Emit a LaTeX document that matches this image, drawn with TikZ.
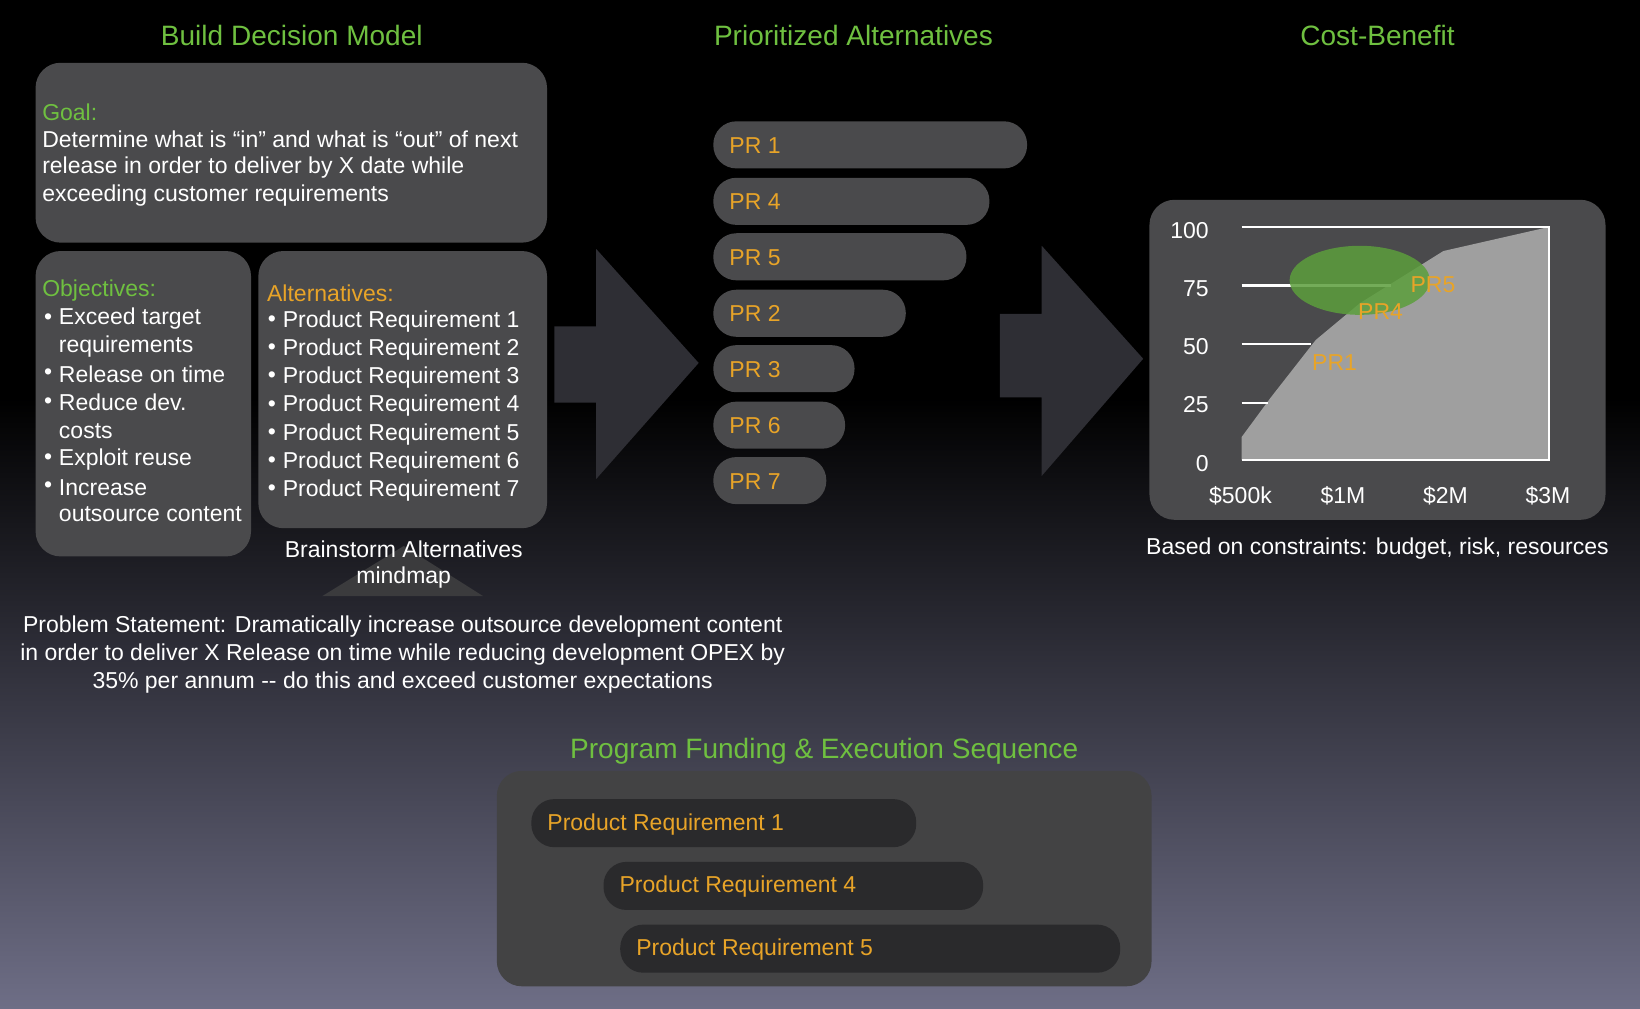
\documentclass[tikz,border=0pt]{standalone}
\usepackage{fontspec}
\setmainfont{Liberation Sans}
\begin{document}
\begin{tikzpicture}[x=0.5pt,y=-0.5pt,
 ttl/.style={text=titlegreen,font=\fontsize{13.4}{15}\selectfont},
 txt/.style={text=white,font=\fontsize{11}{13}\selectfont,inner sep=0pt},
 org/.style={text=prorange,font=\fontsize{11}{13}\selectfont,inner sep=0pt},
 box/.style={fill=boxgray,rounded corners=12pt},
 pill/.style={fill=boxgray,rounded corners=11pt},
 darrow/.style={fill=arrowgray}]
\definecolor{titlegreen}{HTML}{6FC040}
\definecolor{prorange}{HTML}{E8A428}
\definecolor{boxgray}{HTML}{4A4A4C}
\definecolor{arrowgray}{HTML}{2E2E34}
\definecolor{darkpill}{HTML}{2A2A2C}
\definecolor{bgbottom}{HTML}{6E6E86}
\definecolor{ellgreen}{HTML}{5C9E3C}
\useasboundingbox (0,0) rectangle (1568,964);
\fill[black] (0,0) rectangle (1568,380);
\shade[top color=black,bottom color=bgbottom] (0,380) rectangle (1568,964);
% titles
\node[ttl] (t1) at (279,34) {Build Decision Model};
\node[ttl] (t2) at (816,34) {Prioritized Alternatives};
\node[ttl] (t3) at (1317,34) {Cost-Benefit};
% goal box
\fill[box] (34,60) rectangle (523,232);
\node[txt,anchor=west,text=titlegreen] (g0) at (40,107) {Goal:};
\node[txt,anchor=west] (g1) at (40,133) {Determine what is “in” and what is “out” of next};
\node[txt,anchor=west] (g2) at (40,160) {release in order to deliver by X date while};
\node[txt,anchor=west] (g3) at (40,187) {exceeding customer requirements};
% objectives
\fill[box] (34,240) rectangle (240,532);
\node[txt,anchor=west,text=titlegreen] (o0) at (40,278) {Objectives:};
\foreach \y/\b/\t in {305/1/Exceed target,331/0/requirements,358/1/Release on time,385/1/Reduce dev.,412/0/costs,439/1/Exploit reuse,466/1/Increase,492/0/outsource content}{
  \ifnum\b=1 \node[txt] at (46,\y) {\textbullet};\fi
  \node[txt,anchor=west] at (56,\y) {\t};}
% alternatives
\fill[box] (247,240) rectangle (523,505);
\node[txt,anchor=west,text=prorange] (a0) at (255,280) {Alternatives:};
\foreach \i/\y in {1/307,2/334,3/361,4/388,5/415,6/442,7/469}{
  \node[txt] at (260,\y) {\textbullet};
  \node[txt,anchor=west] at (270,\y) {Product Requirement \i};}
% brainstorm triangle
\fill[boxgray!80!black] (386,522) -- (462,570) -- (308,570) -- cycle;
\node[txt] (bs1) at (386,525) {Brainstorm Alternatives};
\node[txt] (bs2) at (386,552) {mindmap};
% problem statement
\node[txt] (p1) at (385,599) {Problem Statement: Dramatically increase outsource development content};
\node[txt] (p2) at (385,626) {in order to deliver X Release on time while reducing development OPEX by};
\node[txt] (p3) at (385,653) {35\% per annum -{}- do this and exceed customer expectations};
% arrows
\fill[darrow] (530,312) -- (570,312) -- (570,238) -- (668,347) -- (570,458) -- (570,385) -- (530,385) -- cycle;
\fill[darrow] (956,300) -- (996,300) -- (996,235) -- (1093,343) -- (996,455) -- (996,380) -- (956,380) -- cycle;
% PR pills
\foreach \n/\r/\y in {1/982/116,4/946/170,5/924/223,2/866/277,3/817/330,6/808/384,7/790/437}{
  \fill[pill] (682,\y) rectangle (\r,\y+45);
  \node[org,anchor=west] at (697,\y+23) {PR \n};}
% chart
\fill[box] (1099,191) rectangle (1535,497);
\fill[gray!75] (1187,418) -- (1215,380) -- (1258,325) -- (1300,290) -- (1380,240) -- (1481,217) -- (1481,440) -- (1187,440) -- cycle;
\draw[white,line width=1pt] (1187,217) -- (1481,217) -- (1481,440) -- (1187,440);
\draw[white,line width=1pt] (1187,273) -- (1330,273);
\draw[white,line width=1pt] (1187,329) -- (1253,329);
\draw[white,line width=1pt] (1187,385) -- (1212,385);
\fill[ellgreen,opacity=0.85] (1300,268) ellipse (67 and 33);
\foreach \v/\y in {100/220,75/276,50/331,25/387,0/443}{\node[txt,anchor=east] at (1156,\y) {\v};}
\foreach \l/\x in {\$500k/1186,\$1M/1284,\$2M/1382,\$3M/1480}{\node[txt] at (\x,474) {\l};}
\node[org] (c5) at (1370,272) {PR5};
\node[org] (c4) at (1320,298) {PR4};
\node[org] (c1) at (1276,347) {PR1};
\node[txt] (bc) at (1317,524) {Based on constraints: budget, risk, resources};
% program funding
\node[ttl] (t4) at (788,718) {Program Funding \& Execution Sequence};
\fill[box,fill=boxgray!90!black] (475,737) rectangle (1101,943);
\foreach \l/\r/\y/\n in {508/876/764/1,577/940/824/4,593/1071/884/5}{
  \fill[pill,fill=darkpill] (\l,\y) rectangle (\r,\y+46);
  \node[org,anchor=west] at (\l+15,\y+24) {Product Requirement \n};}
\end{tikzpicture}
\end{document}
